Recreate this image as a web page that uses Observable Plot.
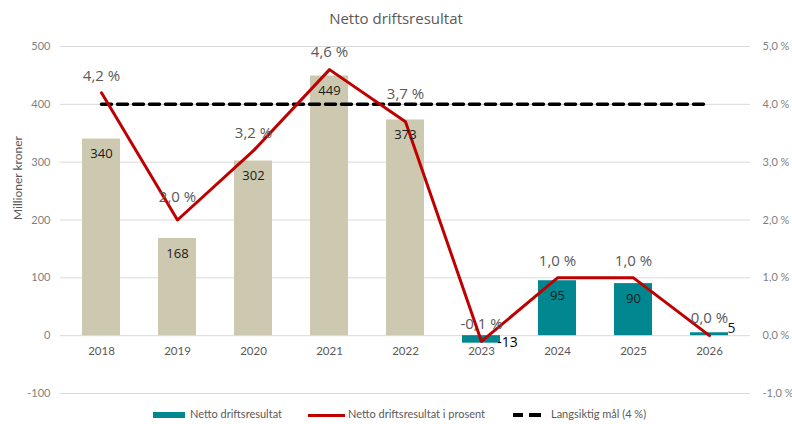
<!DOCTYPE html>
<html><head><meta charset="utf-8">
<script src="https://cdn.jsdelivr.net/npm/d3@7"></script>
<script src="https://cdn.jsdelivr.net/npm/@observablehq/plot@0.6"></script>
<style>
body{margin:0;background:#fff;font-family:Lato,"Open Sans",sans-serif;}
#title{width:792px;height:36px;line-height:36px;text-align:center;font-size:15px;color:#595959;font-family:"Open Sans",sans-serif;}
#legend{position:relative;width:792px;height:20px;font-size:11px;color:#595959;}
#legend .sw{position:absolute;}
#legend .lb{position:absolute;top:3px;line-height:14px;white-space:nowrap;}
</style></head>
<body>
<div id="title">Netto driftsresultat</div>
<div id="chart"></div>
<div id="legend">
  <div class="sw" style="left:153px;top:8px;width:32px;height:6px;background:#00878f"></div>
  <div class="lb" style="left:190px">Netto driftsresultat</div>
  <div class="sw" style="left:308px;top:10px;width:37px;height:3px;background:#c00000"></div>
  <div class="lb" style="left:348px">Netto driftsresultat i prosent</div>
  <div class="sw" style="left:513px;top:9px;width:10px;height:4px;background:#000"></div>
  <div class="sw" style="left:529px;top:9px;width:12px;height:4px;background:#000"></div>
  <div class="lb" style="left:551px">Langsiktig mål (4 %)</div>
</div>
<script>
const years = ["2018","2019","2020","2021","2022","2023","2024","2025","2026"];
const results = [340, 168, 302, 449, 373, -13, 95, 90, 5];
const percents = [4.2, 2.0, 3.2, 4.6, 3.7, -0.1, 1.0, 1.0, 0.0];
const percentLabels = ["4,2 %","2,0 %","3,2 %","4,6 %","3,7 %","-0,1 %","1,0 %","1,0 %","0,0 %"];
const kinds = ["a","a","a","a","a","b","b","b","b"];
const goalPercent = 4.0;
const leftTicks = [-100, 0, 100, 200, 300, 400, 500];
const rightTickLabels = ["-1,0 %","0,0 %","1,0 %","2,0 %","3,0 %","4,0 %","5,0 %"];

const rows = years.map((year, i) => ({
  year, value: results[i], pct: percents[i] * 100, pctLabel: percentLabels[i],
  kind: kinds[i], goal: goalPercent * 100
}));

const beige = "#ccc9b0", teal = "#00878f", red = "#c00000";
const small = d => Math.abs(d.value) < 20;
const raised = new Set(["2019", "2022"]);
const pctFont = {fill: "#595959", fontSize: 15, fontFamily: "'Open Sans', sans-serif", letterSpacing: "0.6px"};
const barFont = {fill: "#1a1a1a", fontSize: 13, fontFamily: "'Open Sans', sans-serif"};

const chart = Plot.plot({
  width: 792, height: 368,
  marginLeft: 60, marginRight: 42, marginTop: 10, marginBottom: 11,
  style: {fontFamily: "Lato, 'Open Sans', sans-serif", fontSize: "11px", background: "#fff", overflow: "visible"},
  x: {type: "band", domain: years, paddingInner: 0.5, paddingOuter: 0.25, axis: null},
  y: {domain: [-100, 500], axis: null},
  marks: [
    Plot.gridY(leftTicks, {stroke: "#d9d9d9", strokeOpacity: 1, strokeWidth: 1}),
    Plot.axisY(leftTicks, {tickSize: 0, tickPadding: 10, fill: "#7f7f7f", fontSize: 11, label: null, tickFormat: d => String(d)}),
    Plot.text(leftTicks, {y: d => d, text: (d, i) => rightTickLabels[i], frameAnchor: "right", dx: 12, textAnchor: "start", fill: "#7f7f7f", fontSize: 11}),
    Plot.text(["Millioner kroner"], {frameAnchor: "left", dx: -42, rotate: -90, fill: "#595959", fontSize: 12}),
    Plot.barY(rows, {filter: d => d.kind === "a", x: "year", y: "value", fill: beige}),
    Plot.barY(rows, {filter: d => d.kind === "b", x: "year", y: "value", fill: teal}),
    Plot.text(years, {x: d => d, y: 0, dy: 16, fill: "#595959", fontSize: 11.5}),
    Plot.line(rows, {x: "year", y: "goal", stroke: "#000", strokeWidth: 3.5, strokeDasharray: "10,6"}),
    Plot.line(rows, {x: "year", y: "pct", stroke: red, strokeWidth: 3}),
    Plot.text(rows, {filter: d => !small(d), x: "year", y: "value", text: d => String(d.value), dy: 15, ...barFont}),
    Plot.text(rows, {filter: d => small(d) && d.value < 0, x: "year", y: "value", text: d => String(d.value), dx: 26, dy: -1, ...barFont, fill: "#000", fontSize: 14}),
    Plot.text(rows, {filter: d => small(d) && d.value >= 0, x: "year", y: "value", text: d => String(d.value), dx: 22, dy: -4, ...barFont, fontSize: 14}),
    Plot.text(rows, {filter: d => !raised.has(d.year), x: "year", y: "pct", text: "pctLabel", dy: -17, ...pctFont}),
    Plot.text(rows, {filter: d => d.year === "2019", x: "year", y: "pct", text: "pctLabel", dy: -23, ...pctFont}),
    Plot.text(rows, {filter: d => d.year === "2022", x: "year", y: "pct", text: "pctLabel", dy: -27, ...pctFont})
  ]
});
document.getElementById("chart").append(chart);
</script>
</body></html>
